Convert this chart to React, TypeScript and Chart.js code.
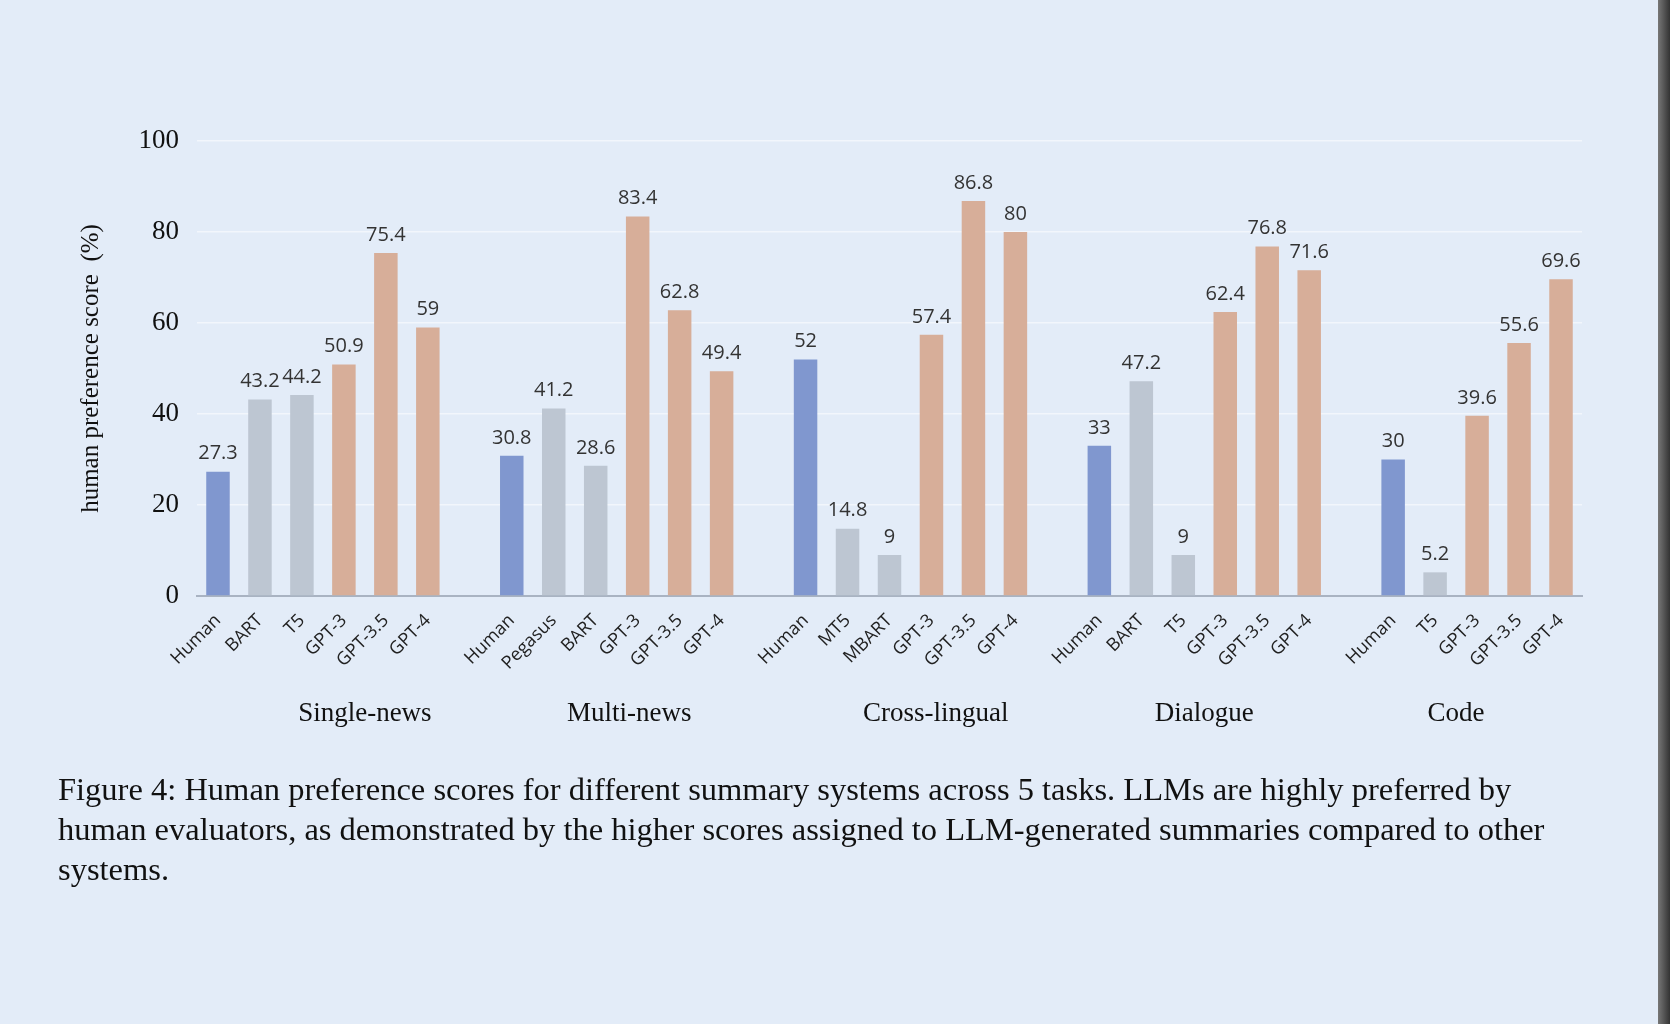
import React, { useEffect, useRef } from 'react';
import { Chart, registerables } from 'chart.js';

Chart.register(...registerables);

// one empty slot between task groups
const systems = [
  'Human', 'BART', 'T5', 'GPT-3', 'GPT-3.5', 'GPT-4', '',
  'Human', 'Pegasus', 'BART', 'GPT-3', 'GPT-3.5', 'GPT-4', '',
  'Human', 'MT5', 'MBART', 'GPT-3', 'GPT-3.5', 'GPT-4', '',
  'Human', 'BART', 'T5', 'GPT-3', 'GPT-3.5', 'GPT-4', '',
  'Human', 'T5', 'GPT-3', 'GPT-3.5', 'GPT-4',
];
const scores: (number | null)[] = [
  27.3, 43.2, 44.2, 50.9, 75.4, 59, null,
  30.8, 41.2, 28.6, 83.4, 62.8, 49.4, null,
  52, 14.8, 9, 57.4, 86.8, 80, null,
  33, 47.2, 9, 62.4, 76.8, 71.6, null,
  30, 5.2, 39.6, 55.6, 69.6,
];
const tasks = ['Single-news', 'Multi-news', 'Cross-lingual', 'Dialogue', 'Code'];
const taskCenters = [3.5, 9.8, 17.1, 23.5, 29.5];

const colorFor = (name: string) =>
  name === 'Human' ? '#8097cf' : name.startsWith('GPT') ? '#d7ae99' : '#bdc6d2';

const App: React.FC = () => {
  const chartRef = useRef<HTMLCanvasElement>(null);
  const chartInstance = useRef<Chart | null>(null);

  useEffect(() => {
    document.body.style.margin = '0';
    if (!chartRef.current) return;
    if (chartInstance.current) chartInstance.current.destroy();

    const extras = {
      id: 'extras',
      afterDatasetsDraw(chart: Chart) {
        const ctx = chart.ctx;
        const meta = chart.getDatasetMeta(0);
        ctx.save();
        ctx.fillStyle = '#333';
        ctx.font = '20px "Open Sans"';
        ctx.textAlign = 'center';
        ctx.textBaseline = 'bottom';
        meta.data.forEach((bar: any, i) => {
          const v = scores[i];
          if (v == null) return;
          ctx.fillText(String(v), bar.x, bar.y - 8);
        });
        ctx.fillStyle = '#111';
        ctx.font = '27px "Liberation Serif"';
        ctx.textBaseline = 'middle';
        const xs = chart.scales.x;
        tasks.forEach((t, i) => {
          ctx.fillText(t, xs.getPixelForValue(taskCenters[i]), 714);
        });
        ctx.restore();
      },
    };

    chartInstance.current = new Chart(chartRef.current, {
      type: 'bar',
      data: {
        labels: systems,
        datasets: [{
          data: scores,
          backgroundColor: systems.map(colorFor),
          barPercentage: 0.56,
          categoryPercentage: 1,
        }],
      },
      options: {
        responsive: false,
        animation: false,
        layout: { padding: { left: 72, right: 88, top: 141, bottom: 298 } },
        plugins: { legend: { display: false }, tooltip: { enabled: false } },
        scales: {
          x: {
            grid: { display: false },
            border: { color: '#a9b3c2', width: 2 },
            ticks: {
              minRotation: 45, maxRotation: 45, autoSkip: false, padding: 6,
              color: '#222', font: { family: 'Open Sans', size: 18 },
            },
            afterFit: (s: any) => { s.height = 130; },
          },
          y: {
            min: 0, max: 100,
            ticks: { stepSize: 20, color: '#111', padding: 18, font: { family: 'Liberation Serif', size: 27 } },
            grid: { color: 'rgba(255,255,255,0.55)', lineWidth: 1.5, drawTicks: false },
            border: { display: false },
            title: {
              display: true, text: 'human preference score  (%)', color: '#111',
              font: { family: 'Liberation Serif', size: 25 }, padding: { bottom: 18 },
            },
            afterFit: (s: any) => { s.width = 125; },
          },
        },
      },
      plugins: [extras],
    });

    return () => {
      if (chartInstance.current) chartInstance.current.destroy();
    };
  }, []);

  return (
    <div style={{ position: 'relative', width: 1670, height: 1024, background: '#e3ecf8', overflow: 'hidden' }}>
      <canvas ref={chartRef} width={1670} height={1024} style={{ position: 'absolute', left: 0, top: 0 }} />
      <div style={{
        position: 'absolute', left: 58, top: 769, width: 1545,
        fontFamily: '"Liberation Serif", serif', fontSize: 32.5, lineHeight: '40px', color: '#111',
      }}>
        Figure 4: Human preference scores for different summary systems across 5 tasks. LLMs are highly preferred by
        human evaluators, as demonstrated by the higher scores assigned to LLM-generated summaries compared to other
        systems.
      </div>
      <div style={{
        position: 'absolute', left: 1658, top: 0, width: 12, height: 1024,
        background: 'linear-gradient(to right, #777, #333)',
      }} />
    </div>
  );
};

export default App;
